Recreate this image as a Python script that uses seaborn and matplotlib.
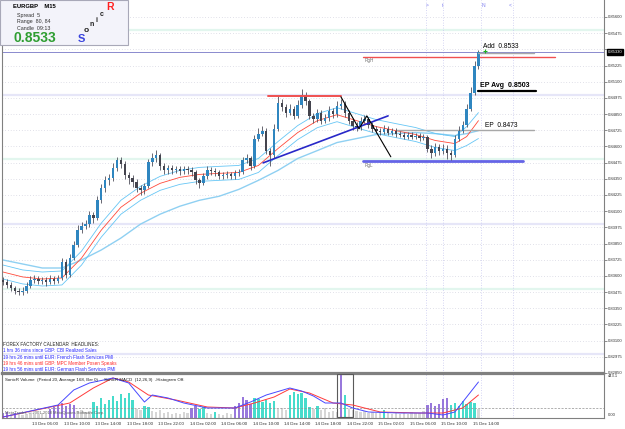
import numpy as np
import pandas as pd
import matplotlib
matplotlib.use("Agg")
import matplotlib.pyplot as plt
import matplotlib.transforms as mtrans
from matplotlib.patches import Rectangle
import seaborn as sns

# ---------------- data ----------------
first_open = 0.83570
closes = [0.83553, 0.83530, 0.83507, 0.83484, 0.83476, 0.83484, 0.83522, 0.83569, 0.83576, 0.83561,
          0.83569, 0.83553, 0.83576, 0.83561, 0.83584, 0.83707, 0.83607, 0.83738, 0.83838, 0.83953,
          0.83984, 0.84000, 0.84069, 0.84046, 0.84184, 0.84276, 0.84338, 0.84353, 0.84430, 0.84492,
          0.84468, 0.84376, 0.84353, 0.84322, 0.84276, 0.84261, 0.84292, 0.84476, 0.84507, 0.84530,
          0.84445, 0.84415, 0.84430, 0.84415, 0.84422, 0.84407, 0.84422, 0.84415, 0.84399, 0.84338,
          0.84315, 0.84368, 0.84415, 0.84407, 0.84399, 0.84368, 0.84376, 0.84384, 0.84368, 0.84392,
          0.84399, 0.84492, 0.84507, 0.84445, 0.84661, 0.84699, 0.84722, 0.84568, 0.84530, 0.84738,
          0.84938, 0.84907, 0.84861, 0.84892, 0.84838, 0.84922, 0.84999, 0.84953, 0.84838, 0.84815,
          0.84861, 0.84799, 0.84822, 0.84876, 0.84853, 0.84915, 0.84930, 0.84861, 0.84799, 0.84761,
          0.84753, 0.84799, 0.84815, 0.84768, 0.84738, 0.84722, 0.84715, 0.84738, 0.84707, 0.84722,
          0.84699, 0.84692, 0.84676, 0.84692, 0.84676, 0.84684, 0.84668, 0.84676, 0.84584, 0.84553,
          0.84599, 0.84568, 0.84584, 0.84553, 0.84530, 0.84661, 0.84722, 0.84768, 0.84892, 0.85015,
          0.85222, 0.85330]
highs = [0.83595, 0.83575, 0.83550, 0.83525, 0.83510, 0.83515, 0.83550, 0.83600, 0.83610, 0.83600,
         0.83595, 0.83590, 0.83605, 0.83600, 0.83610, 0.83740, 0.83730, 0.83770, 0.83870, 0.83990,
         0.84020, 0.84035, 0.84100, 0.84095, 0.84220, 0.84310, 0.84370, 0.84390, 0.84470, 0.84520,
         0.84515, 0.84490, 0.84400, 0.84380, 0.84345, 0.84300, 0.84320, 0.84500, 0.84550, 0.84570,
         0.84550, 0.84470, 0.84460, 0.84455, 0.84450, 0.84450, 0.84450, 0.84445, 0.84440, 0.84420,
         0.84360, 0.84395, 0.84445, 0.84440, 0.84430, 0.84420, 0.84400, 0.84410, 0.84405, 0.84415,
         0.84425, 0.84520, 0.84540, 0.84525, 0.84690, 0.84740, 0.84760, 0.84740, 0.84590, 0.84770,
         0.84990, 0.84970, 0.84930, 0.84930, 0.84910, 0.84960, 0.85040, 0.85020, 0.84970, 0.84860,
         0.84890, 0.84880, 0.84850, 0.84910, 0.84900, 0.84950, 0.84970, 0.84950, 0.84880, 0.84820,
         0.84790, 0.84830, 0.84845, 0.84830, 0.84790, 0.84760, 0.84745, 0.84765, 0.84755, 0.84745,
         0.84740, 0.84720, 0.84710, 0.84715, 0.84710, 0.84705, 0.84700, 0.84695, 0.84690, 0.84610,
         0.84630, 0.84620, 0.84615, 0.84610, 0.84570, 0.84690, 0.84760, 0.84800, 0.84930, 0.85060,
         0.85260, 0.85345]
lows = [0.83530, 0.83505, 0.83480, 0.83460, 0.83450, 0.83455, 0.83470, 0.83510, 0.83545, 0.83535,
        0.83540, 0.83520, 0.83535, 0.83540, 0.83545, 0.83570, 0.83580, 0.83595, 0.83720, 0.83820,
        0.83930, 0.83960, 0.83980, 0.84010, 0.84030, 0.84160, 0.84250, 0.84300, 0.84330, 0.84410,
        0.84430, 0.84350, 0.84310, 0.84290, 0.84245, 0.84225, 0.84235, 0.84280, 0.84450, 0.84480,
        0.84420, 0.84385, 0.84390, 0.84390, 0.84395, 0.84380, 0.84385, 0.84390, 0.84370, 0.84310,
        0.84280, 0.84300, 0.84350, 0.84380, 0.84375, 0.84345, 0.84350, 0.84355, 0.84345, 0.84350,
        0.84370, 0.84385, 0.84470, 0.84420, 0.84430, 0.84640, 0.84680, 0.84540, 0.84450, 0.84510,
        0.84720, 0.84870, 0.84830, 0.84840, 0.84810, 0.84820, 0.84900, 0.84920, 0.84810, 0.84780,
        0.84790, 0.84770, 0.84780, 0.84800, 0.84820, 0.84830, 0.84890, 0.84830, 0.84770, 0.84730,
        0.84720, 0.84730, 0.84780, 0.84740, 0.84710, 0.84700, 0.84690, 0.84695, 0.84685, 0.84690,
        0.84675, 0.84670, 0.84655, 0.84660, 0.84655, 0.84660, 0.84645, 0.84650, 0.84560, 0.84510,
        0.84525, 0.84530, 0.84540, 0.84505, 0.84495, 0.84515, 0.84640, 0.84700, 0.84750, 0.84870,
        0.85000, 0.85200]

ma_idx = [0, 5, 10, 15, 20, 25, 30, 35, 40, 45, 50, 55, 60, 65, 70, 75, 80, 85, 90, 95,
          100, 105, 110, 115, 118, 121]
ma_fast = [0.83630, 0.83592, 0.83576, 0.83584, 0.83738, 0.83953, 0.84130, 0.84238, 0.84315, 0.84361,
           0.84384, 0.84392, 0.84399, 0.84453, 0.84584, 0.84707, 0.84799, 0.84845, 0.84799, 0.84753,
           0.84722, 0.84692, 0.84646, 0.84622, 0.84676, 0.84799]
band_up = [0.83684, 0.83646, 0.83630, 0.83638, 0.83792, 0.84007, 0.84184, 0.84292, 0.84369, 0.84415,
           0.84438, 0.84446, 0.84453, 0.84507, 0.84638, 0.84761, 0.84853, 0.84899, 0.84853, 0.84807,
           0.84776, 0.84746, 0.84700, 0.84676, 0.84753, 0.84861]
band_dn = [0.83576, 0.83538, 0.83522, 0.83530, 0.83684, 0.83899, 0.84076, 0.84184, 0.84261, 0.84307,
           0.84330, 0.84338, 0.84345, 0.84399, 0.84530, 0.84653, 0.84745, 0.84791, 0.84745, 0.84699,
           0.84668, 0.84638, 0.84592, 0.84568, 0.84607, 0.84661]
ma_slow = [0.83723, 0.83692, 0.83661, 0.83661, 0.83723, 0.83800, 0.83892, 0.84000, 0.84077, 0.84138,
           0.84184, 0.84215, 0.84268, 0.84338, 0.84415, 0.84507, 0.84568, 0.84630, 0.84661, 0.84692,
           0.84699, 0.84707, 0.84699, 0.84684, 0.84699, 0.84722]

volume = [50, 60, 45, 55, 40, 35, 40, 50, 45, 40, 50, 45, 90, 110, 130, 150, 120, 140, 130, 70,
          80, 65, 75, 160, 120, 200, 140, 180, 220, 170, 240, 200, 250, 180, 90, 80, 120, 110, 70, 60,
          80, 50, 60, 45, 55, 40, 60, 50, 100, 120, 90, 110, 50, 40, 60, 45, 35, 50, 40, 120,
          150, 210, 180, 140, 200, 190, 160, 180, 150, 170, 90, 100, 80, 230, 260, 240, 250, 200, 110, 90,
          120, 80, 100, 60, 70, 60, 443, 230, 90, 80, 70, 60, 75, 55, 65, 50, 60, 80, 50, 45,
          55, 40, 50, 45, 60, 50, 55, 70, 130, 150, 120, 140, 190, 200, 130, 150, 120, 170, 140, 160,
          150, 90]
# g = below average (grey), t = rising (turquoise), p = climax (purple)
vol_kind = ("ppgpgggggg" "ggpppppppg" "gggttttttt" "ttttggttgg" "ggggggggpp"
            "ttggtggggp" "pppptttttt" "gggttttttg" "tgggggptgg" "gggggggtgg"
            "ggggggggpp" "pppptttttt" "tg")

macd_idx = [0, 14, 18, 22, 28, 32, 36, 38, 42, 46, 52, 59, 63, 67, 73, 76, 79, 82, 86, 89,
            93, 101, 108, 112, 115, 117, 121]
macd_main = [-9, 3, 18, 25, 30, 25, 6, 13, 10, 5, 0, 0, 6, 13, 20, 17, 12, 5, 5, 0,
             -4, -5, -5, -7, -4, 6, 26]
sig_idx = [0, 17, 23, 28, 32, 37, 44, 52, 59, 64, 69, 73, 78, 84, 89, 96, 106, 112, 117, 121]
macd_signal = [-9, 5, 20, 30, 26, 13, 8, 1, 0, 5, 11, 19, 15, 5, 3, -4, -5, -5, 0, 13]

time_labels = ["12 Dec 2018", "13 Dec 06:00", "13 Dec 10:00", "13 Dec 14:00", "13 Dec 18:00",
               "13 Dec 22:00", "14 Dec 02:00", "14 Dec 06:00", "14 Dec 10:00", "14 Dec 14:00",
               "14 Dec 18:00", "14 Dec 22:00", "15 Dec 02:00", "15 Dec 06:00", "15 Dec 10:00",
               "15 Dec 14:00"]
price_ticks = [round(0.82850 + 0.00125 * k, 5) for k in range(23)]

headlines = [("1 hrs 36 mins since GBP: CBI Realized Sales", "#2a2aff"),
             ("19 hrs 26 mins until EUR: French Flash Services PMI", "#2a2aff"),
             ("19 hrs 46 mins until GBP: MPC Member Posen Speaks", "#ff2a2a"),
             ("19 hrs 56 mins until EUR: German Flash Services PMI", "#2a2aff")]

# ---------------- style ----------------
sns.set_theme(style="white")
plt.rcParams["font.family"] = ["Liberation Sans", "DejaVu Sans"]

W, H = 625, 429
fig = plt.figure(figsize=(W / 100, H / 100), dpi=100)
fig.patch.set_facecolor("white")

def fx(px):
    return px / W

def fy(py):
    return 1 - py / H

ax = fig.add_axes([fx(2), fy(373), fx(602), 373 / H])
axv = fig.add_axes([fx(2), fy(418), fx(602), 44 / H])
XL = (-0.25, 152.95)

# ---------------- main panel ----------------
c = np.array(closes)
o = np.r_[first_open, c[:-1]]
hi = np.array(highs)
lo = np.array(lows)
xs = np.arange(len(c))

ax.set_xlim(*XL)
ax.set_ylim(0.82853, 0.85731)

# pale round-number levels
for lv in [0.8500, 0.8400, 0.8300]:
    ax.axhline(lv, color="#e6e6f8", lw=1.6, zorder=0)
for lv in [0.8550, 0.8450, 0.8350]:
    ax.axhline(lv, color="#e2f6ee", lw=1.6, zorder=0)

ax.set_yticks(price_ticks)
ax.grid(axis="y", linestyle=(0, (1, 3)), color="#c4c4d4", lw=0.5)
ax.grid(axis="x", visible=False)
ax.yaxis.tick_right()
ax.set_yticklabels(["" if abs(t - 0.8535) < 1e-7 else f"{t:.5f}" for t in price_ticks],
                   fontsize=3.0, color="#303030")
ax.tick_params(axis="y", length=2, width=0.5, pad=1, colors="#606060", labelcolor="#303030")
ax.set_xticks([])

# vertical dotted markers
for vx in [107.6, 112.0, 121.6, 129.8]:
    ax.axvline(vx, color="#c8c8f0", lw=0.6, linestyle=(0, (1, 2)), zorder=0)
    axv.axvline(vx, color="#c8c8f0", lw=0.6, linestyle=(0, (1, 2)), zorder=0)

# moving averages
sns.lineplot(x=ma_idx, y=ma_slow, ax=ax, color="#8fd0f2", lw=1.0, zorder=2)
sns.lineplot(x=ma_idx, y=band_up, ax=ax, color="#66c6f5", lw=0.6, zorder=2)
sns.lineplot(x=ma_idx, y=band_dn, ax=ax, color="#66c6f5", lw=0.6, zorder=2)
sns.lineplot(x=ma_idx, y=ma_fast, ax=ax, color="#ff4a3a", lw=0.6, zorder=2)

# candles
ax.vlines(xs, lo, hi, color="#50505c", lw=0.6, zorder=3)
bull = c >= o
body = np.maximum(np.abs(c - o), 0.00005)
ax.bar(xs[bull], body[bull], bottom=o[bull], width=0.62, color="#2f86c0", lw=0, zorder=4)
ax.bar(xs[~bull], body[~bull], bottom=c[~bull], width=0.62, color="#44444e", lw=0, zorder=4)

# bid line
ax.axhline(0.8533, color="#8a8ace", lw=0.7, zorder=1)

# drawn objects
ax.plot([91.6, 140.5], [0.85291, 0.85291], color="#f05050", lw=1.0, zorder=2)
ax.text(92.0, 0.85262, "RgH", fontsize=3.3, color="#707070", va="center")
ax.plot([91.6, 132.3], [0.84489, 0.84489], color="#6464e6", lw=2.0, zorder=2)
ax.text(92.0, 0.84455, "RgL", fontsize=3.3, color="#707070", va="center")
ax.plot([100.0, 135.1], [0.8473, 0.8473], color="#a8a8a8", lw=1.0, zorder=2)
ax.text(122.6, 0.84762, "EP  0.8473", fontsize=4.8, color="black", va="center")
ax.plot([121.0, 135.6], [0.8503, 0.8503], color="black", lw=1.6, zorder=5)
ax.text(121.3, 0.85070, "EP Avg  0.8503", fontsize=5.0, color="black", va="center", fontweight="bold")
ax.plot([121.0, 135.1], [0.85322, 0.85322], color="#a8a8a8", lw=1.0, zorder=5)
ax.text(122.2, 0.85372, "Add  0.8533", fontsize=4.8, color="black", va="center")
ax.plot([122.6], [0.85340], marker="+", color="#20b020", ms=3, mew=0.8, zorder=6)
ax.plot([67.4, 86.0], [0.84990, 0.84990], color="#f05050", lw=1.4, zorder=5)
ax.plot([66.2, 98.0], [0.84473, 0.84836], color="#2828c8", lw=1.2, zorder=5)
ax.plot([86.0, 90.6, 92.6, 98.7], [0.84983, 0.84736, 0.84836, 0.84520], color="black", lw=0.8, zorder=5)

for txt, px in [(">", 427), ("t", 443), ("N", 484), ("<", 510)]:
    ax.text((px - 3) / 3.93, 0.85690, txt, fontsize=3.6, color="#8080f0",
            ha="center", va="center")

# current price tag on axis
tr = mtrans.blended_transform_factory(ax.transAxes, ax.transData)
ax.text(1.006, 0.8533, "0.85330", transform=tr, fontsize=3.0, color="white", va="center",
        ha="left", clip_on=False, zorder=10,
        bbox=dict(boxstyle="square,pad=0.15", fc="black", ec="black"))

ax.spines["top"].set_visible(False)
for sp in ["left", "right"]:
    ax.spines[sp].set_color("#808080")
    ax.spines[sp].set_linewidth(0.8)
ax.spines["bottom"].set_color("#808080")
ax.spines["bottom"].set_linewidth(1.6)

# ---------------- indicator panel ----------------
axv.set_xlim(*XL)
axv.set_ylim(0, 443.1)
kind_col = {"g": "#d6d6d6", "t": "#46dccc", "p": "#9878dc"}
axv.bar(xs, volume, width=0.6, color=[kind_col[k] for k in vol_kind], lw=0, zorder=2)
axv.add_patch(Rectangle((85.0, 6), 4.1, 434, fill=False, ec="#5a5a5a", lw=0.8, zorder=3))
axv.set_yticks([])
trv = mtrans.blended_transform_factory(axv.transAxes, axv.transData)
axv.text(1.006, 440, "443.1", transform=trv, fontsize=3.0, color="#303030", ha="left", va="top",
         clip_on=False)
axv.text(1.006, 8, "0.00", transform=trv, fontsize=3.0, color="#303030", ha="left", va="bottom",
         clip_on=False)
ticks = [8 * k - 0.5 for k in range(len(time_labels))]
axv.set_xticks(ticks)
axv.set_xticklabels(time_labels, fontsize=3.2, color="#303030", ha="left")
axv.tick_params(axis="x", length=2, width=0.5, pad=1, colors="#606060", labelcolor="#303030")
axv.grid(False)
for sp in ["left", "right", "bottom", "top"]:
    axv.spines[sp].set_color("#808080")
    axv.spines[sp].set_linewidth(0.8)
axv.spines["top"].set_linewidth(1.6)

axm = axv.twinx()
axm.set_xlim(*XL)
axm.set_ylim(-10, 34)
axm.axhline(0, color="#909090", lw=0.5, linestyle=(0, (3, 2)), zorder=1)
sns.lineplot(x=sig_idx, y=macd_signal, ax=axm, color="#ff3a3a", lw=0.7)
sns.lineplot(x=macd_idx, y=macd_main, ax=axm, color="#4848ff", lw=0.7)
axm.set_yticks([])
axm.set_ylabel("")
axm.grid(False)
for sp in axm.spines.values():
    sp.set_visible(False)

fig.text(fx(5), fy(380), "SonicR Volume  (Period 20, Average 168, Bar 0)     SonicR MACD  (12,26,9)  -Histogram Off.",
         fontsize=3.2, color="#202020", va="center", zorder=6)
fig.text(fx(5), fy(413), "MetaTrader, \u00a9 2001-2018 MetaQuotes Software Corp.",
         fontsize=3.0, color="#606060", va="center", zorder=6)

# ---------------- headline block ----------------
fig.text(fx(3), fy(344), "FOREX FACTORY CALENDAR  HEADLINES:", fontsize=3.3, color="#202020", va="center")
for k, (txt, col) in enumerate(headlines):
    fig.text(fx(3), fy(351 + 6.1 * k), txt, fontsize=3.3, color=col, va="center")

# ---------------- info box ----------------
fig.patches.append(Rectangle((0, fy(45)), fx(128), 45 / H, transform=fig.transFigure,
                             fc="#f3f3fa", ec="#a8a8b8", lw=0.8, zorder=5))
fig.text(fx(13), fy(6), "EURGBP    M15", fontsize=4.2, fontweight="bold", color="black", va="center", zorder=6)
fig.text(fx(17), fy(15), "Spread  5", fontsize=3.8, color="#303030", va="center", zorder=6)
fig.text(fx(17), fy(22), "Range  80, 84", fontsize=3.8, color="#303030", va="center", zorder=6)
fig.text(fx(17), fy(28.5), "Candle  09:13", fontsize=3.8, color="#303030", va="center", zorder=6)
fig.text(fx(13), fy(38.5), "0.8533", fontsize=10, fontweight="bold", color="#2f9e32", va="center", zorder=6)
fig.text(fx(78), fy(39), "S", fontsize=8, fontweight="bold", color="#3a44dd", va="center", zorder=6)
fig.text(fx(84), fy(31), "o", fontsize=6, fontweight="bold", color="#202020", va="center", zorder=6)
fig.text(fx(89), fy(25), "n", fontsize=5, fontweight="bold", color="#202020", va="center", zorder=6)
fig.text(fx(95), fy(20.5), "i", fontsize=5, fontweight="bold", color="#202020", va="center", zorder=6)
fig.text(fx(100), fy(15), "c", fontsize=5, fontweight="bold", color="#202020", va="center", zorder=6)
fig.text(fx(106), fy(6.5), "R", fontsize=7.5, fontweight="bold", color="#ff2020", va="center", zorder=6)

fig.savefig("out.png", dpi=100, facecolor="white")
